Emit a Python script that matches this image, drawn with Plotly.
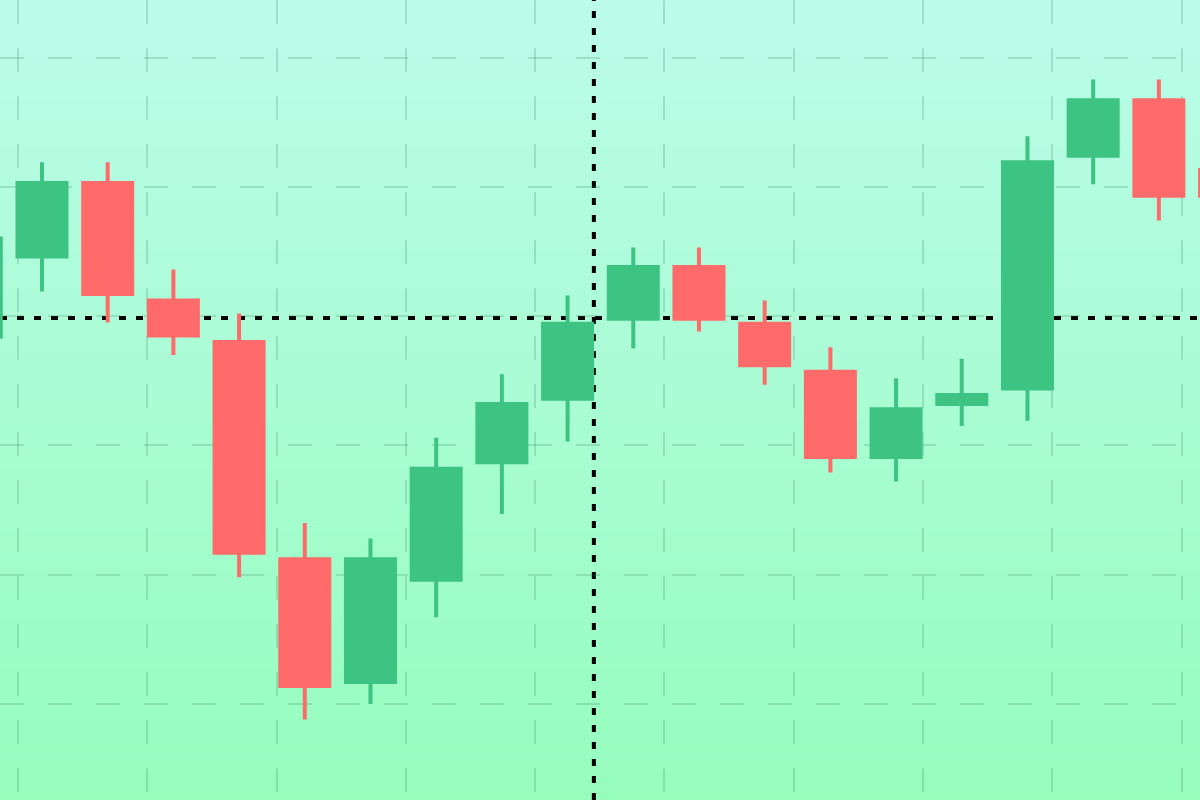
import plotly.graph_objects as go

# Candle data (one entry per session, the first and last are cut off by the frame)
sessions = list(range(20))
open_prices = [128.4, 134.6, 140.3, 131.2, 128.0, 111.2, 101.7, 109.6, 118.7, 123.6,
               129.8, 133.8, 129.4, 125.7, 119.1, 123.2, 124.4, 142.4, 146.7, 141.3]
high_prices = [136.7, 141.9, 141.9, 133.6, 130.2, 114.0, 112.8, 120.6, 125.5, 131.6,
               135.3, 135.3, 131.2, 127.6, 125.2, 126.7, 143.9, 148.3, 148.3, 142.8]
low_prices = [127.8, 131.9, 129.5, 127.0, 109.8, 98.8, 100.0, 106.7, 114.7, 120.3,
              127.5, 128.8, 124.7, 117.9, 117.2, 121.5, 121.9, 140.2, 137.4, 137.8]
close_prices = [136.0, 140.3, 131.7, 128.5, 111.7, 101.4, 111.2, 118.2, 123.2, 129.4,
                133.8, 129.8, 126.2, 119.1, 122.8, 123.9, 141.9, 146.7, 139.3, 139.3]

# Crosshair position (session, price)
crosshair_x = 9.4
crosshair_y = 129.85

UP_COLOR = "#3dc482"
DOWN_COLOR = "#ff6b6b"
BG_TOP = (187, 252, 234)
BG_BOTTOM = (150, 253, 189)
GRID_COLOR = "rgba(50, 115, 85, 0.2)"


def gradient_shapes(n=80):
    """
    Stack of thin paper-wide stripes that fakes a vertical background gradient.
    """
    shapes = []
    for k in range(n):
        t = (k + 0.5) / n  # 0 at bottom, 1 at top
        rgb = [round(b + (a - b) * t) for a, b in zip(BG_TOP, BG_BOTTOM)]
        shapes.append(dict(
            type="rect", xref="paper", yref="paper",
            x0=0, x1=1, y0=k / n, y1=(k + 1) / n,
            fillcolor="rgb({},{},{})".format(*rgb),
            line=dict(width=0), layer="below",
        ))
    return shapes


def plot_candles():
    fig = go.Figure(go.Candlestick(
        x=sessions,
        open=open_prices,
        high=high_prices,
        low=low_prices,
        close=close_prices,
        increasing=dict(line=dict(color=UP_COLOR, width=4), fillcolor=UP_COLOR),
        decreasing=dict(line=dict(color=DOWN_COLOR, width=4), fillcolor=DOWN_COLOR),
        whiskerwidth=0,
        showlegend=False,
    ))

    crosshair = dict(color="black", width=4, dash="7px,10px")
    shapes = gradient_shapes()
    shapes += [
        dict(type="line", xref="x", yref="paper", x0=crosshair_x, x1=crosshair_x,
             y0=0, y1=1, line=crosshair, layer="between"),
        dict(type="line", xref="paper", yref="y", x0=0, x1=1,
             y0=crosshair_y, y1=crosshair_y, line=crosshair, layer="between"),
    ]

    fig.update_layout(
        width=1200,
        height=800,
        margin=dict(l=0, r=0, t=0, b=0),
        paper_bgcolor="rgb(170,253,212)",
        plot_bgcolor="rgba(0,0,0,0)",
        boxgap=0.254,
        boxgroupgap=0,
        shapes=shapes,
        hovermode=False,
    )
    fig.update_xaxes(
        range=[0.361, 18.626],
        rangeslider_visible=False,
        tickmode="linear", tick0=0.635, dtick=1.968,
        showgrid=True, gridcolor=GRID_COLOR, gridwidth=2, griddash="24px,24px",
        showticklabels=False, zeroline=False, showline=False,
    )
    fig.update_yaxes(
        range=[92.575, 154.447],
        tickmode="linear", tick0=100, dtick=10,
        showgrid=True, gridcolor=GRID_COLOR, gridwidth=2, griddash="24px,24px",
        showticklabels=False, zeroline=False, showline=False,
    )
    return fig


fig = plot_candles()
# drop the default page margin so the chart sits flush in the window
fig.write_html("out.html", config={"displayModeBar": False},
               post_script="document.body.style.margin = '0';")
